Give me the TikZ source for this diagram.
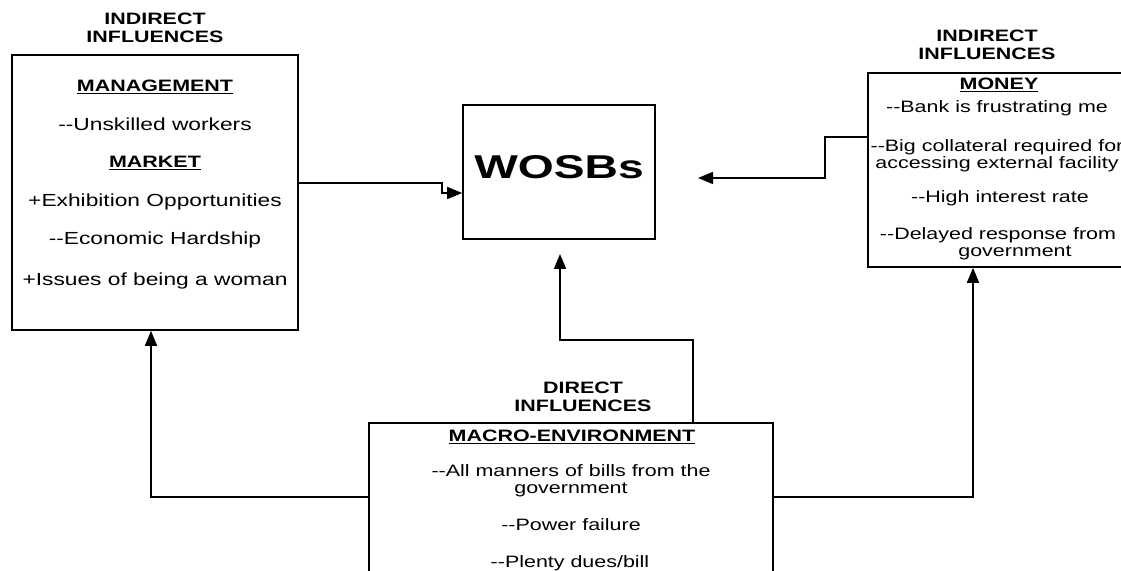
\documentclass[tikz,border=0pt]{standalone}
\usepackage{fontspec}
\setmainfont{Liberation Sans}[FakeStretch=1.3]
\newfontfamily\wosbfont{Liberation Sans}[FakeStretch=1.4]
\usetikzlibrary{arrows.meta}
\newcommand\dd{-\kern0pt-}
\begin{document}
\begin{tikzpicture}[x=1pt,y=1pt,
  box/.style={draw,line width=1.6pt,inner sep=0pt},
  conn/.style={line width=1.6pt},
  arr/.style={conn,-{Triangle[length=15pt,width=12pt]}},
  hdr/.style={anchor=base,inner sep=0pt,font=\fontsize{16.5}{19}\selectfont\bfseries},
  txt/.style={anchor=base,inner sep=0pt,font=\fontsize{16.5}{19}\selectfont},
  ltxt/.style={anchor=base,inner sep=0pt,font=\fontsize{17.5}{20}\selectfont}]
\useasboundingbox (0,0) rectangle (1121,570);
\fill[white] (0,0) rectangle (1121,570);

% boxes
\node[box,minimum width=286,minimum height=275] (lbox) at (155,377.5) {};
\node[box,minimum width=192,minimum height=134] (wosb) at (559,398) {};
\node[box,minimum width=262,minimum height=194] (money) at (999,400) {};
\node[box,minimum width=404,minimum height=187] (macro) at (571,53.5) {};

% left box
\node[hdr] (lh1) at (155,545) {INDIRECT};
\node[hdr] (lh2) at (155,527) {INFLUENCES};
\node[hdr] (lt1) at (155,478) {\underline{MANAGEMENT}};
\node[ltxt] (lt2) at (155,439) {\dd Unskilled workers};
\node[hdr] (lt3) at (155,402) {\underline{MARKET}};
\node[ltxt] (lt4) at (155,363) {+Exhibition Opportunities};
\node[ltxt] (lt5) at (155,325) {\dd Economic Hardship};
\node[ltxt] (lt6) at (155,284) {+Issues of being a woman};

% WOSBs
\node[anchor=base,inner sep=0pt,font=\wosbfont\fontsize{33}{38}\selectfont\bfseries] (wt) at (559,391) {WOSBs};

% right box
\node[hdr] (rh1) at (987,528) {INDIRECT};
\node[hdr] (rh2) at (987,510) {INFLUENCES};
\node[hdr] (rt1) at (999,480) {\underline{MONEY}};
\node[txt] (rt2) at (997,457) {\dd Bank is frustrating me};
\node[txt] (rt3) at (997,418) {\dd Big collateral required for};
\node[txt] (rt4) at (997,401) {accessing external facility};
\node[txt] (rt5) at (1000,367) {\dd High interest rate};
\node[txt] (rt6) at (998,330) {\dd Delayed response from};
\node[txt] (rt7) at (1015,313) {government};

% bottom box
\node[hdr] (bh1) at (583,176) {DIRECT};
\node[hdr] (bh2) at (583,158) {INFLUENCES};
\node[hdr] (bt1) at (572,128) {\underline{MACRO-ENVIRONMENT}};
\node[txt] (bt2) at (571,93) {\dd All manners of bills from the};
\node[txt] (bt3) at (571,76) {government};
\node[txt] (bt4) at (571,39) {\dd Power failure};
\node[txt] (bt5) at (570,3) {\dd Plenty dues/bill};

% connectors
\coordinate (a1) at (442,387);
\coordinate (a2) at (442,377);
\draw[arr] ([yshift=9.5]lbox.east) -- (a1) -- (a2) -- ([yshift=-21]wosb.west);

\coordinate (b1) at (825,433);
\coordinate (b2) at (825,392);
\coordinate (bend) at (698,392);
\draw[arr] ([yshift=33]money.west) -- (b1) -- (b2) -- (bend);

\coordinate (c1) at (693,230);
\coordinate (c2) at (560,230);
\coordinate (cend) at (560,316);
\draw[arr] (macro.north -| c1) -- (c1) -- (c2) -- (cend);

\coordinate (d1) at (151,73);
\draw[arr] ([yshift=19.5]macro.west) -- (d1) -- (d1 |- lbox.south);
\coordinate (e1) at (973,73);
\draw[arr] ([yshift=19.5]macro.east) -- (e1) -- (e1 |- money.south);
\end{tikzpicture}
\end{document}
